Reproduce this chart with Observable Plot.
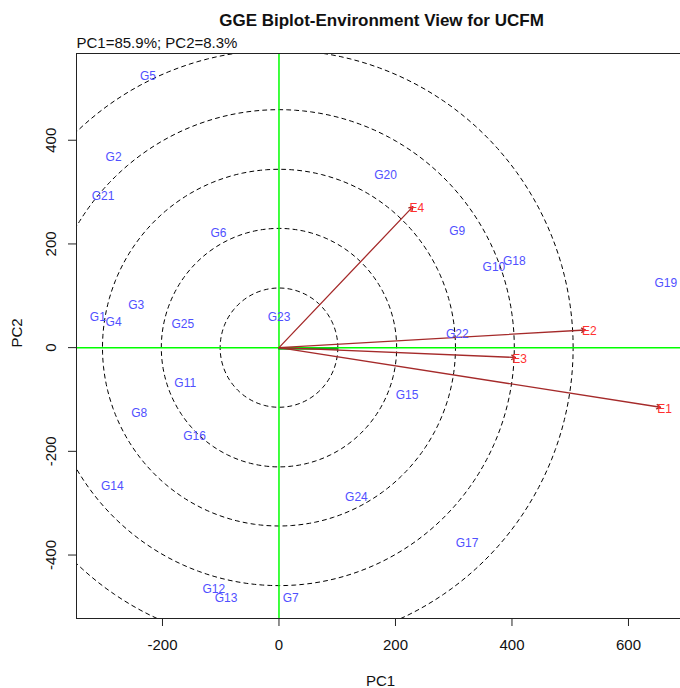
<!DOCTYPE html>
<html><head><meta charset="utf-8">
<script src="https://cdn.jsdelivr.net/npm/d3@7"></script>
<script src="https://cdn.jsdelivr.net/npm/@observablehq/plot@0.6"></script>
<style>body{margin:0;background:#fff;} svg{font-family:"Liberation Sans",Arial,sans-serif;}</style>
</head><body><div id="chart"></div>
<script>
const genotypes = ["G1","G2","G3","G4","G5","G6","G7","G8","G9","G10","G11","G12","G13","G14","G15","G16","G17","G18","G19","G20","G21","G22","G23","G24","G25"];
const genoPC1 = [-311,-284,-245,-284,-225,-104,20,-240,306,369,-161,-112,-91,-286,220,-145,323,404,664,183,-302,306,0,133,-165];
const genoPC2 = [58,368,81,49,523,220,-483,-126,224,156,-68,-465,-483,-268,-91,-170,-377,166,124,332,293,26,58,-289,46];
const environments = ["E1","E2","E3","E4"];
const envPC1 = [655,526,406,230];
const envPC2 = [-115,34,-19,272];
const aecPC1 = [0,100];
const aecPC2 = [-2,-2];
const xTicks = [-200,0,200,400,600];
const yTicks = [-400,-200,0,200,400];
const ringRx = [101,202,303,404,505];
const ringRy = [115,230,344,459,574];
const xDomain = [-347.6,689.3];
const yDomain = [-522.4,567.3];
const titleText = "GGE Biplot-Environment View for UCFM";
const subtitleText = "PC1=85.9%; PC2=8.3%";

const ringPts = [];
ringRx.forEach((rx,i)=>{
  const ry = ringRy[i];
  for(let a=0;a<=360;a+=2){
    const t=a*Math.PI/180;
    ringPts.push({ring:i,x:rx*Math.cos(t),y:ry*Math.sin(t)});
  }
});
const aec = aecPC1.map((x,i)=>({x,y:aecPC2[i]}));

const chart = Plot.plot({
  width:680, height:688,
  marginLeft:76, marginRight:0, marginTop:53, marginBottom:70,
  style:{fontFamily:"'Liberation Sans', Arial, sans-serif", background:"#fff", overflow:"visible"},
  x:{domain:xDomain, axis:null},
  y:{domain:yDomain, axis:null},
  marks:[
    Plot.line(ringPts,{x:"x",y:"y",z:"ring",stroke:"#000",strokeWidth:1,strokeDasharray:"4,4",clip:true}),
    Plot.ruleX([0],{stroke:"#00ff00",strokeWidth:1.5}),
    Plot.ruleY([0],{stroke:"#00ff00",strokeWidth:1.5}),
    Plot.line(aec,{x:"x",y:"y",stroke:"#1f9a1f",strokeWidth:2}),
    Plot.arrow(environments,{x1:()=>0,y1:()=>0,x2:(d,i)=>envPC1[i],y2:(d,i)=>envPC2[i],stroke:"#a52a2a",strokeWidth:1.3,headLength:5,headAngle:60}),
    Plot.text(genotypes,{x:(d,i)=>genoPC1[i],y:(d,i)=>genoPC2[i],text:d=>d,fill:"#5050ff",fontSize:12}),
    Plot.text(environments,{x:(d,i)=>envPC1[i],y:(d,i)=>envPC2[i],text:d=>d,fill:"#ff3030",fontSize:12,dx:4,dy:1.5}),
    Plot.ruleY([yDomain[1]],{stroke:"#222",strokeWidth:1}),
    Plot.ruleY([yDomain[0]],{stroke:"#222",strokeWidth:1}),
    Plot.ruleX([xDomain[0]],{stroke:"#222",strokeWidth:1}),
    Plot.axisX({ticks:xTicks,tickSize:8,tickFormat:()=>"",label:null,stroke:"#222"}),
    Plot.axisY({ticks:yTicks,tickSize:8,tickFormat:()=>"",label:null,stroke:"#222"}),
    Plot.text(xTicks,{x:d=>d,frameAnchor:"bottom",lineAnchor:"middle",textAnchor:"middle",dy:27,text:d=>String(d),fontSize:15,fill:"#111"}),
    Plot.text(yTicks,{y:d=>d,frameAnchor:"left",lineAnchor:"middle",textAnchor:"middle",dx:-25,rotate:-90,text:d=>String(d),fontSize:15,fill:"#111"}),
    Plot.text(["PC1"],{frameAnchor:"bottom",lineAnchor:"middle",textAnchor:"middle",dx:2,dy:63,text:d=>d,fontSize:15,fill:"#111"}),
    Plot.text(["PC2"],{frameAnchor:"left",lineAnchor:"middle",textAnchor:"middle",dx:-59,dy:-3,rotate:-90,text:d=>d,fontSize:15,fill:"#111"}),
    Plot.text([titleText],{frameAnchor:"top",lineAnchor:"middle",textAnchor:"middle",dx:3,dy:-33,text:d=>d,fontSize:17,fontWeight:"bold",fill:"#111"}),
    Plot.text([subtitleText],{frameAnchor:"top-left",lineAnchor:"middle",textAnchor:"start",dy:-10,text:d=>d,fontSize:15,fill:"#111"})
  ]
});
document.getElementById("chart").appendChild(chart);
</script></body></html>
